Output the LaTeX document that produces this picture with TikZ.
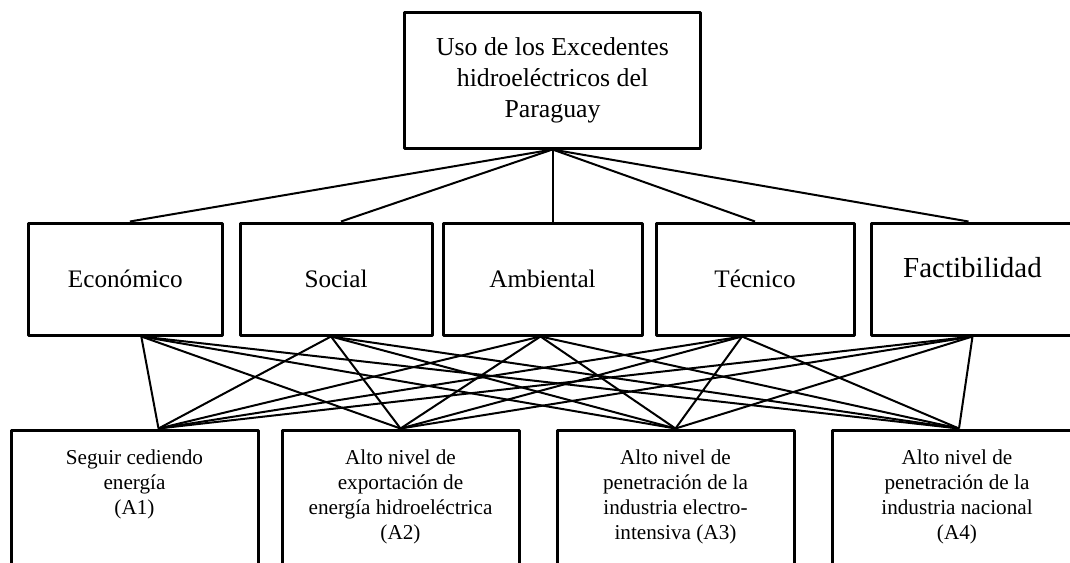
\documentclass[tikz,border=0pt]{standalone}
\usepackage{fontspec}
\setmainfont{Liberation Serif}

\newcommand{\alttext}[1]{\parbox[t][80pt][t]{105pt}{\centering #1}}

\begin{document}
\begin{tikzpicture}[x=0.5pt,y=-0.5pt,
    goal_node/.style={draw,line width=1.5pt,line join=round,minimum width=148pt,minimum height=68pt,align=center,font=\fontsize{12.9}{15.5}\selectfont},
    crit_node/.style={draw,line width=1.5pt,line join=round,minimum height=56pt,font=\fontsize{12.6}{15}\selectfont},
    alt_node/.style={draw,line width=1.5pt,line join=round,anchor=north,inner xsep=5pt,inner ysep=10pt,font=\fontsize{10.6}{12.5}\selectfont},
    link/.style={draw,line width=1pt}]

    \useasboundingbox (0,0) rectangle (1070,562);

    \node[goal_node] (goal) at (552.5,80) {Uso de los Excedentes\\hidroeléctricos del\\Paraguay};

    \node[crit_node,minimum width=96.7pt] (eco) at (125.3,279) {Económico};
    \node[crit_node,minimum width=96pt] (soc) at (336,279) {Social};
    \node[crit_node,minimum width=99.5pt] (amb) at (542.5,279) {Ambiental};
    \node[crit_node,minimum width=99pt] (tec) at (755,279) {Técnico};
    \node[crit_node,minimum width=101pt,font=\fontsize{14.5}{17}\selectfont,text depth=12pt] (fac) at (972.5,279) {Factibilidad};

    \node[alt_node,minimum width=123.5pt] (a1) at (134.5,428.5) {\alttext{Seguir cediendo\\energía\\(A1)}};
    \node[alt_node,minimum width=118.5pt] (a2) at (400.5,428.5) {\alttext{Alto nivel de\\exportación de\\energía hidroeléctrica\\(A2)}};
    \node[alt_node,minimum width=118.5pt] (a3) at (675.5,428.5) {\alttext{Alto nivel de\\penetración de la\\industria electro-\\intensiva (A3)}};
    \node[alt_node,minimum width=125pt] (a4) at (957,428.5) {\alttext{Alto nivel de\\penetración de la\\industria nacional\\(A4)}};

    % end points on the criteria boxes
    \coordinate (eco_top) at ([xshift=2.3pt]eco.north);
    \coordinate (soc_top) at ([xshift=2.5pt]soc.north);
    \coordinate (amb_top) at ([xshift=5pt]amb.north);
    \coordinate (fac_top) at ([xshift=-2pt]fac.north);
    \coordinate (eco_bot) at ([xshift=8pt]eco.south);
    \coordinate (soc_bot) at ([xshift=-2.5pt]soc.south);
    \coordinate (amb_bot) at ([xshift=-1pt]amb.south);
    \coordinate (tec_bot) at ([xshift=-6.5pt]tec.south);
    \coordinate (a1_top) at ([xshift=12pt]a1.north);
    \coordinate (a4_top) at ([xshift=1pt]a4.north);

    \path[link]
    (goal.south) edge (eco_top)
    (goal.south) edge (soc_top)
    (goal.south) edge (amb_top)
    (goal.south) edge (tec.north)
    (goal.south) edge (fac_top);

    \path[link]
    (eco_bot) edge (a1_top)
    (eco_bot) edge (a2.north)
    (eco_bot) edge (a3.north)
    (eco_bot) edge (a4_top)
    (soc_bot) edge (a1_top)
    (soc_bot) edge (a2.north)
    (soc_bot) edge (a3.north)
    (soc_bot) edge (a4_top)
    (amb_bot) edge (a1_top)
    (amb_bot) edge (a2.north)
    (amb_bot) edge (a3.north)
    (amb_bot) edge (a4_top)
    (tec_bot) edge (a1_top)
    (tec_bot) edge (a2.north)
    (tec_bot) edge (a3.north)
    (tec_bot) edge (a4_top)
    (fac.south) edge (a1_top)
    (fac.south) edge (a2.north)
    (fac.south) edge (a3.north)
    (fac.south) edge (a4_top);
\end{tikzpicture}
\end{document}
